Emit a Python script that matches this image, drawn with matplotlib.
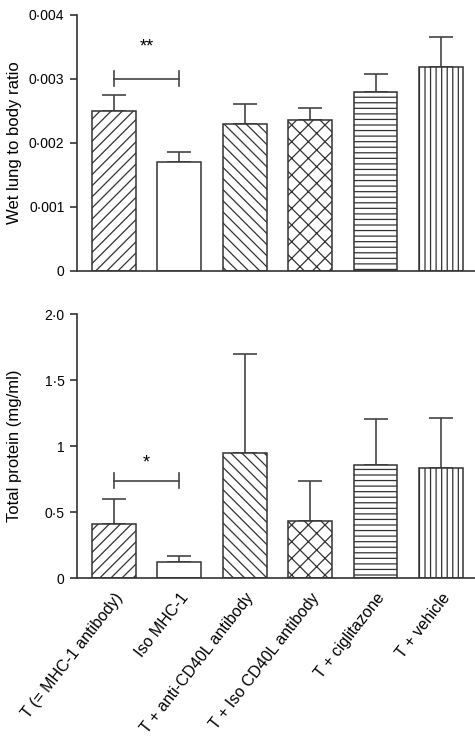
import matplotlib.pyplot as plt
from matplotlib.ticker import FixedLocator, FixedFormatter

plt.rcParams['font.family'] = ['Liberation Sans', 'DejaVu Sans']
plt.rcParams['hatch.linewidth'] = 0.9

groups = ["T (= MHC-1 antibody)", "Iso MHC-1", "T + anti-CD40L antibody",
          "T + Iso CD40L antibody", "T + ciglitazone", "T + vehicle"]
hatches = ['///', '', '\\\\\\', 'xx', '---', '|||']

# wet lung to body ratio
ratio_mean = [0.0025, 0.0017, 0.0023, 0.00235, 0.0028, 0.00318]
ratio_err = [0.00025, 0.00015, 0.0003, 0.00019, 0.00027, 0.00048]
ratio_ticks = [0, 0.001, 0.002, 0.003, 0.004]
ratio_ticklabels = ["0", "0·001", "0·002", "0·003", "0·004"]

# total protein
prot_mean = [0.41, 0.12, 0.95, 0.43, 0.855, 0.835]
prot_err = [0.19, 0.045, 0.75, 0.31, 0.35, 0.375]
prot_ticks = [0, 0.5, 1, 1.5, 2.0]
prot_ticklabels = ["0", "0·5", "1", "1·5", "2·0"]

# significance brackets: (bar a, bar b, bracket y, star y, text)
ratio_sig = (0, 1, 0.003, 0.0035, "**")
prot_sig = (0, 1, 0.74, 0.87, "*")

fig = plt.figure(figsize=(4.75, 7.48), dpi=100)
ax1 = fig.add_axes([0.162, 0.638, 0.838, 0.342])
ax2 = fig.add_axes([0.162, 0.227, 0.838, 0.353])

x = list(range(len(groups)))
edge = '#333333'


def draw(ax, mean, err, ticks, ticklabels, ylim, ylabel, sig, tick_h):
    for i in x:
        ax.bar(i, mean[i], width=0.67, color='white', edgecolor=edge,
               hatch=hatches[i], linewidth=1.1, zorder=2)
    ax.errorbar(x, mean, yerr=[[0] * len(x), err], fmt='none', ecolor='#444444',
                elinewidth=1.2, capsize=8.5, capthick=1.2, zorder=1)
    a, b, y, ys, txt = sig
    ax.plot([a, b], [y, y], color='#444444', lw=1.2)
    ax.plot([a, a], [y - tick_h, y + tick_h], color='#444444', lw=1.2)
    ax.plot([b, b], [y - tick_h, y + tick_h], color='#444444', lw=1.2)
    ax.text((a + b) / 2, ys, txt, ha='center', va='center', fontsize=13)
    ax.set_xlim(-0.566, 5.52)
    ax.set_ylim(*ylim)
    ax.yaxis.set_major_locator(FixedLocator(ticks))
    ax.yaxis.set_major_formatter(FixedFormatter(ticklabels))
    ax.set_ylabel(ylabel, fontsize=12)
    ax.yaxis.set_label_coords(-0.138, 0.5)
    ax.spines['top'].set_visible(False)
    ax.spines['right'].set_visible(False)
    ax.spines['left'].set_color(edge)
    ax.spines['bottom'].set_color(edge)
    ax.spines['left'].set_linewidth(1.2)
    ax.spines['bottom'].set_linewidth(1.2)
    ax.tick_params(axis='y', direction='out', length=5, width=1.2, pad=4,
                   color=edge, labelsize=10)
    ax.tick_params(axis='x', length=0)


draw(ax1, ratio_mean, ratio_err, ratio_ticks, ratio_ticklabels, (0, 0.004),
     "Wet lung to body ratio", ratio_sig, 0.000117)
ax1.set_xticks([])

draw(ax2, prot_mean, prot_err, prot_ticks, prot_ticklabels, (0, 2.0),
     "Total protein (mg/ml)", prot_sig, 0.059)
ax2.set_xticks(x)
ax2.set_xticklabels(groups, rotation=52, ha='right', va='top',
                    rotation_mode='anchor', fontsize=11.5)
ax2.tick_params(axis='x', pad=9)

fig.savefig("out.png", dpi=100)
